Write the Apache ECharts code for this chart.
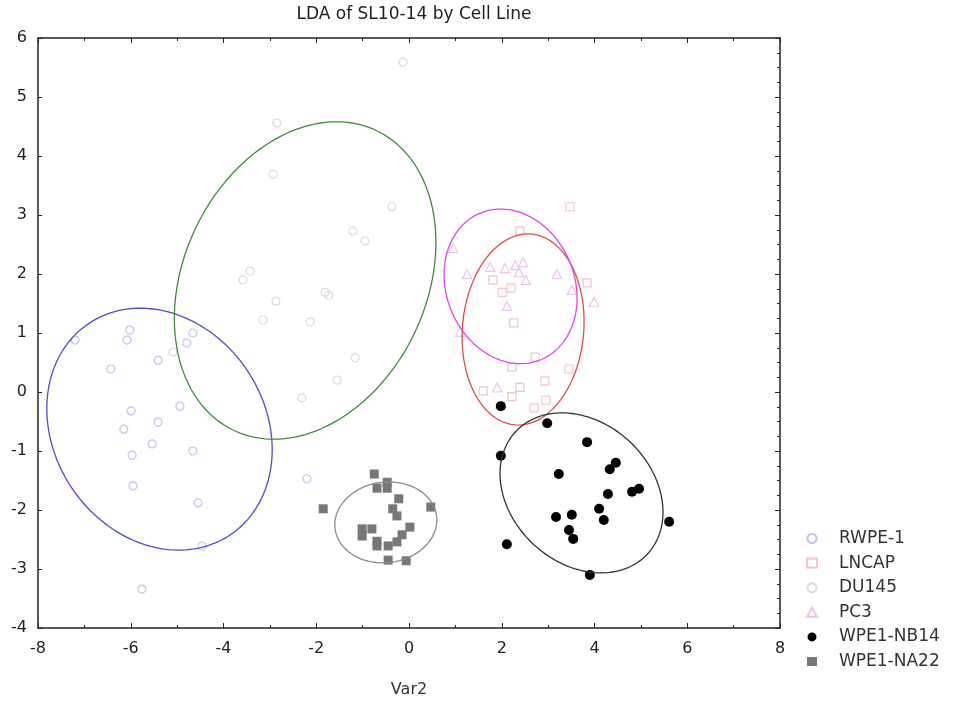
<!DOCTYPE html>
<html>
<head>
<meta charset="utf-8">
<script src="https://cdn.jsdelivr.net/npm/echarts@6/dist/echarts.min.js"></script>
<style>html,body{margin:0;padding:0;background:#fff;}#c{width:953px;height:703px;}</style>
</head>
<body>
<div id="c"></div>
<script>
// ---- data (Var1 vs Var2 scores) ----
const seriesNames = ['RWPE-1', 'LNCAP', 'DU145', 'PC3', 'WPE1-NB14', 'WPE1-NA22'];

const rwpe1 = [
  [-7.20, 0.88], [-6.02, 1.05], [-6.08, 0.88], [-4.66, 1.00], [-4.79, 0.83],
  [-5.41, 0.54], [-6.43, 0.39], [-4.94, -0.24], [-5.99, -0.32], [-5.41, -0.51],
  [-6.15, -0.63], [-5.54, -0.88], [-5.97, -1.07], [-4.66, -1.00], [-5.95, -1.59],
  [-4.55, -1.88], [-4.46, -2.61], [-5.76, -3.34], [-2.20, -1.47]
];
const lncap = [
  [3.47, 3.14], [1.81, 1.90], [2.01, 1.69], [2.20, 1.76], [3.84, 1.85],
  [2.26, 1.17], [2.22, 0.42], [2.72, 0.59], [3.45, 0.39], [2.93, 0.19],
  [2.39, 0.08], [1.60, 0.02], [2.22, -0.08], [2.95, -0.14], [2.70, -0.27],
  [2.39, 2.73]
];
const du145 = [
  [-0.13, 5.59], [-2.85, 4.56], [-2.93, 3.69], [-0.37, 3.14], [-1.21, 2.73],
  [-0.95, 2.56], [-3.58, 1.90], [-3.43, 2.05], [-2.87, 1.54], [-3.15, 1.22],
  [-1.81, 1.69], [-1.73, 1.64], [-2.13, 1.19], [-1.16, 0.58], [-1.55, 0.20],
  [-2.31, -0.10], [-5.09, 0.68]
];
const pc3 = [
  [0.95, 2.44], [1.25, 2.00], [1.75, 2.12], [2.07, 2.10], [2.29, 2.15],
  [2.46, 2.20], [2.52, 1.90], [2.37, 2.03], [3.19, 2.00], [3.51, 1.73],
  [3.99, 1.53], [2.11, 1.46], [1.90, 0.08], [1.10, 1.02]
];
const nb14 = [
  [1.98, -0.24], [2.98, -0.53], [3.84, -0.85], [1.98, -1.08], [3.23, -1.39],
  [4.46, -1.20], [4.33, -1.31], [4.29, -1.73], [4.81, -1.69], [4.96, -1.64],
  [4.10, -1.98], [4.20, -2.17], [3.17, -2.12], [3.51, -2.08], [3.45, -2.34],
  [3.54, -2.49], [5.61, -2.20], [2.11, -2.58], [3.90, -3.10]
];
const na22 = [
  [-0.75, -1.39], [-0.69, -1.63], [-0.47, -1.53], [-0.47, -1.63], [-1.85, -1.98],
  [-0.22, -1.81], [-0.35, -1.98], [-0.26, -2.10], [0.47, -1.95], [-1.01, -2.32],
  [-0.80, -2.32], [-1.01, -2.44], [-0.69, -2.53], [-0.69, -2.61], [-0.45, -2.61],
  [-0.26, -2.54], [-0.15, -2.42], [0.02, -2.29], [-0.45, -2.85], [-0.06, -2.86]
];

// confidence ellipses: [centerX, centerY, radiusX, radiusY, correlation]
const ellipseRWPE1 = [-5.38, -0.63, 2.43, 2.05, -0.17];
const ellipseLNCAP = [2.46, 1.06, 1.315, 1.62, 0.08];
const ellipseDU145 = [-2.24, 1.89, 2.82, 2.69, 0.24];
const ellipsePC3   = [2.19, 1.79, 1.434, 1.31, -0.15];
const ellipseNB14  = [3.72, -1.71, 1.757, 1.356, -0.24];
const ellipseNA22  = [-0.50, -2.21, 1.10, 0.686, 0.06];

const xRange = [-8, 8, 2];
const yRange = [-4, 6, 1];

// ---- build ----
const FONT = 'DejaVu Sans';
function ellipsePath(p) {
  const [cx, cy, rx, ry, rho] = p;
  const s = Math.sqrt(1 - rho * rho);
  const pts = [];
  const n = 160;
  for (let i = 0; i <= n; i++) {
    const t = (i / n) * Math.PI * 2;
    pts.push([cx + rx * Math.cos(t), cy + ry * (rho * Math.cos(t) + s * Math.sin(t))]);
  }
  return pts;
}

const scatterDefs = [
  { name: 'RWPE-1', data: rwpe1, symbol: 'circle', size: 8, color: 'rgba(0,0,0,0)', border: '#c2c2ef' },
  { name: 'LNCAP', data: lncap, symbol: 'rect', size: 8, color: 'rgba(0,0,0,0)', border: '#f2c4cc' },
  { name: 'DU145', data: du145, symbol: 'circle', size: 8, color: 'rgba(0,0,0,0)', border: '#d8dcd8' },
  { name: 'PC3', data: pc3, symbol: 'triangle', size: 9, color: 'rgba(0,0,0,0)', border: '#efc4ec' },
  { name: 'WPE1-NB14', data: nb14, symbol: 'circle', size: 10, color: '#000000', border: '#000000' },
  { name: 'WPE1-NA22', data: na22, symbol: 'rect', size: 9, color: '#777777', border: '#777777' }
];
const ellipseDefs = [
  { p: ellipseRWPE1, color: '#4b4bd6' },
  { p: ellipseLNCAP, color: '#e04a4a' },
  { p: ellipseDU145, color: '#3f8a3f' },
  { p: ellipsePC3, color: '#e244e6' },
  { p: ellipseNB14, color: '#333333' },
  { p: ellipseNA22, color: '#8a8a8a' }
];

const series = [];
scatterDefs.forEach(d => {
  series.push({
    name: d.name, type: 'scatter', data: d.data, symbol: d.symbol, symbolSize: d.size,
    xAxisIndex: 0, yAxisIndex: 0, z: 2,
    itemStyle: { color: d.color, borderColor: d.border, borderWidth: d.color === 'rgba(0,0,0,0)' ? 1.2 : 0, opacity: 1 },
    emphasis: { disabled: true }
  });
});
ellipseDefs.forEach((e, i) => {
  series.push({
    name: 'ellipse' + i, type: 'line', data: ellipsePath(e.p), showSymbol: false, symbol: 'none',
    xAxisIndex: 0, yAxisIndex: 0, z: 3, silent: true, smooth: false,
    lineStyle: { color: e.color, width: 1.3 }
  });
});

const axisLineStyle = { color: '#222', width: 1.5 };
const tickStyle = { color: '#222', width: 1 };
const chart = echarts.init(document.getElementById('c'), null, { renderer: 'canvas' });
chart.setOption({
  animation: false,
  backgroundColor: '#ffffff',
  title: {
    text: 'LDA of SL10-14 by Cell Line', left: 409, top: 1, textAlign: 'center',
    textStyle: { fontFamily: FONT, fontSize: 17, fontWeight: 'normal', color: '#222' }
  },
  grid: { left: 38, right: 173, top: 38, bottom: 75, containLabel: false },
  legend: {
    data: seriesNames, orient: 'vertical', left: 801, top: 525,
    itemWidth: 10, itemHeight: 9, itemGap: 7.6,
    textStyle: { fontFamily: FONT, fontSize: 17, color: '#333', lineHeight: 17, padding: [0, 0, 0, 17] },
    selectedMode: false
  },
  xAxis: [
    {
      type: 'value', min: xRange[0], max: xRange[1], interval: xRange[2], position: 'bottom',
      axisLine: { onZero: false, lineStyle: axisLineStyle },
      axisTick: { inside: true, length: 5, lineStyle: tickStyle },
      minorTick: { show: true, splitNumber: 2, length: 3, lineStyle: tickStyle },
      splitLine: { show: false }, minorSplitLine: { show: false },
      axisLabel: { margin: 13, color: '#222', fontFamily: FONT, fontSize: 16 },
      name: 'Var2', nameLocation: 'middle', nameGap: 54,
      nameTextStyle: { fontFamily: FONT, fontSize: 16, color: '#333' }
    },
    {
      type: 'value', min: xRange[0], max: xRange[1], interval: xRange[2], position: 'top',
      axisLine: { onZero: false, lineStyle: axisLineStyle },
      axisTick: { inside: true, length: 5, lineStyle: tickStyle },
      minorTick: { show: true, splitNumber: 2, length: 3, lineStyle: tickStyle },
      splitLine: { show: false }, axisLabel: { show: false }
    }
  ],
  yAxis: [
    {
      type: 'value', min: yRange[0], max: yRange[1], interval: yRange[2], position: 'left',
      axisLine: { onZero: false, lineStyle: axisLineStyle },
      axisTick: { inside: true, length: 4, lineStyle: tickStyle },
      splitLine: { show: false },
      axisLabel: { margin: 11, color: '#222', fontFamily: FONT, fontSize: 16 }
    },
    {
      type: 'value', min: yRange[0], max: yRange[1], interval: yRange[2], position: 'right',
      axisLine: { onZero: false, lineStyle: axisLineStyle },
      axisTick: { inside: true, length: 5, lineStyle: tickStyle },
      minorTick: { show: true, splitNumber: 4, length: 3, lineStyle: tickStyle },
      splitLine: { show: false }, minorSplitLine: { show: false }, axisLabel: { show: false }
    }
  ],
  series: series
});
</script>
</body>
</html>
